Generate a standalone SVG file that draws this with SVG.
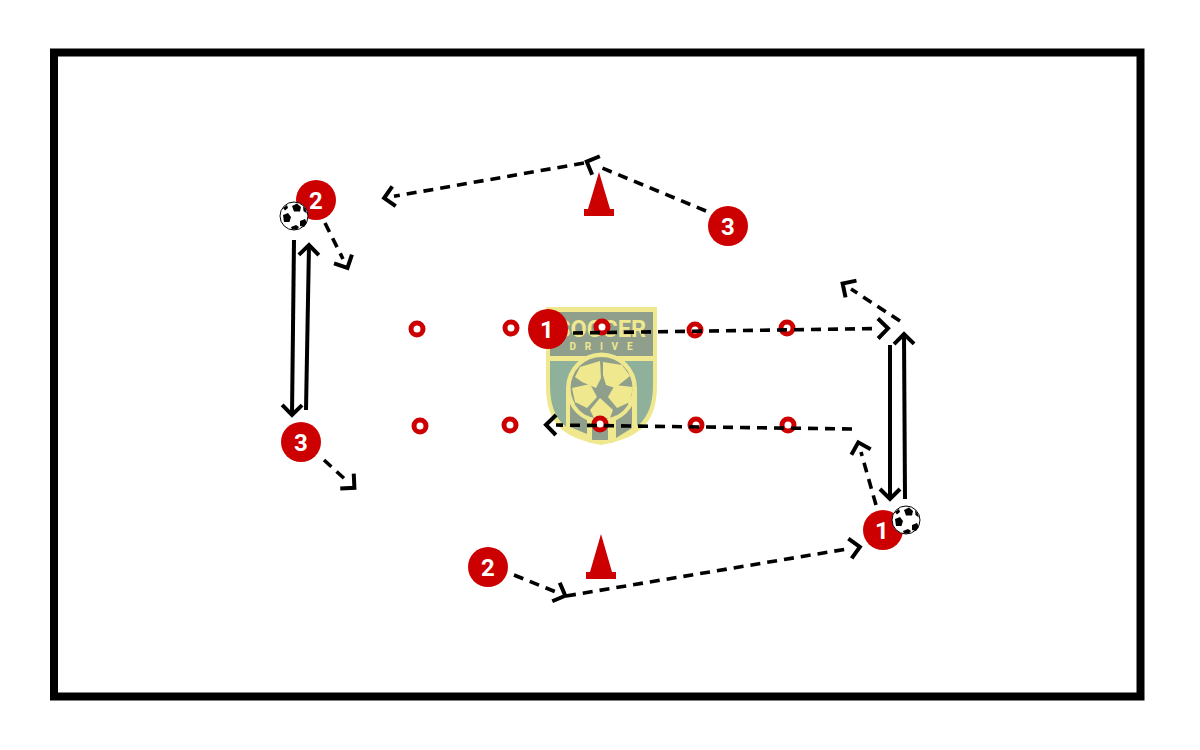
<svg xmlns="http://www.w3.org/2000/svg" width="1200" height="750" viewBox="0 0 1200 750">
<style>
.dash{fill:none;stroke:#000;stroke-width:3.6;stroke-dasharray:10 7;marker-end:url(#open)}
.solid{fill:none;stroke:#000;stroke-width:4;marker-end:url(#open2)}
.pl{fill:#c00}
.pt{fill:#fff;font:700 24px Roboto,"Liberation Sans",sans-serif;text-anchor:middle}
.ring{fill:#fff;stroke:#c00;stroke-width:5}
.cone{fill:#c00}
.lg{fill:#8fb09a}
.dk{fill:#8f9f8c}
.ly{fill:#efe88e}
.lt{fill:#efe88e;font-family:Roboto,"Liberation Sans",sans-serif;font-weight:700;text-anchor:middle}
</style>
<defs>
<marker id="open" markerUnits="userSpaceOnUse" markerWidth="36" markerHeight="36" refX="10" refY="18" orient="auto"><path d="M10 8L20 18L10 28" fill="none" stroke="#000" stroke-width="4"/></marker>
<marker id="open2" markerUnits="userSpaceOnUse" markerWidth="36" markerHeight="36" refX="18" refY="18" orient="auto"><path d="M8 8L18 18L8 28" fill="none" stroke="#000" stroke-width="4"/></marker>
<g id="ballDef">
<circle r="14" fill="#fff" stroke="#000" stroke-width="1"/>
<path d="M-2-10L3-12.500L7-9L6-4.500L0-4.500Z" fill="#000"/>
<path d="M-11-1L-6-3L-3 1L-4.500 6L-10 6Z" fill="#000"/>
<path d="M6 5L11 3L13 7L10 11L6 10Z" fill="#000"/>
<path d="M-3 11L2 9L5 11L3 13.500L-2 13.500Z" fill="#000"/>
<path d="M-11-8L-7-11L-6-8L-9-5.500Z" fill="#000"/>
<path d="M9-10L12-6L12.800-2.500L9.500-5Z" fill="#000"/>
</g>
</defs>
<rect width="1200" height="750" fill="#fff"/>
<rect id="pitch" x="54" y="52.500" width="1086.500" height="644" fill="#fff" stroke="#000" stroke-width="8"/>
<g id="logo">
<path d="M546 307H657V385C657 428 635 438 601 445C567 438 546 428 546 385Z" class="ly"/>
<path d="M550 312H653V356H550Z" class="dk"/>
<path d="M550 361H653V385C653 424 632 434 601 441C570 434 550 424 550 385Z" class="lg"/>
<path d="M566 388A35.500 35.500 0 0 1 637 388V430L612 443H590L566 430Z" class="ly"/>
<circle cx="601.500" cy="388" r="31" class="dk"/>
<path d="M570 404H587V434L570 427Z" class="dk"/>
<path d="M592 418H608V440H592Z" class="dk"/>
<path d="M616 404H632V428L616 438Z" class="dk"/>
<path d="M566 388A35.500 35.500 0 0 0 637 388L633 388A31.500 31.500 0 0 1 570 388Z" class="ly"/>
<path d="M580 367L600 361L601 378L596 388L582 382L575 377Z" class="ly"/>
<path d="M603 362L622 365L630 376L615 388L606 385L603 375Z" class="ly"/>
<path d="M572 388L590 384L597 397L587 408L575 402Z" class="ly"/>
<path d="M608 397L615 385L633 387L630 402L617 408Z" class="ly"/>
<path d="M590 410L600 398L613 410L610 418L595 420Z" class="ly"/>
<text class="lt" x="601" y="337" font-size="23" textLength="90" lengthAdjust="spacingAndGlyphs">SOCCER</text>
<text class="lt" x="601" y="350" font-size="10" textLength="63">DRIVE</text>
</g>
<g id="rings">
<circle class="ring" cx="417" cy="329" r="6"/><circle class="ring" cx="511" cy="328" r="6"/><circle class="ring" cx="602" cy="327" r="6"/><circle class="ring" cx="695" cy="330" r="6"/><circle class="ring" cx="787" cy="328" r="6"/>
<circle class="ring" cx="420" cy="426" r="6"/><circle class="ring" cx="510" cy="425" r="6"/><circle class="ring" cx="600" cy="424" r="6"/><circle class="ring" cx="696" cy="425" r="6"/><circle class="ring" cx="788" cy="425" r="6"/>
</g>
<g id="cone-top"><path class="cone" d="M599 172L610 209H614V216H584V209H588Z"/></g>
<g id="cone-bottom"><path class="cone" d="M601 534L612 572H616V579H586V572H590Z"/></g>
<g id="connectors">
<path class="dash" d="M706 211L596 165.500"/>
<path class="dash" d="M584 163L394 196.300"/>
<path class="dash" d="M325 223L343 259"/>
<path class="dash" d="M324 460L347 481"/>
<path class="dash" d="M514 575L556 592"/>
<path class="dash" d="M566 596L850 548.500"/>
<path class="dash" d="M876 505L861 452"/>
<path class="dash" d="M852 429L556 425"/>
<path class="dash" d="M573 333L878 328.500"/>
<path class="dash" d="M900 321L851 289"/>
<path class="solid" d="M294 240L292 415"/>
<path class="solid" d="M306 410L309 245"/>
<path class="solid" d="M890 345L890 499"/>
<path class="solid" d="M905 499L904 334"/>
</g>
<g id="player-1a"><circle class="pl" cx="548" cy="329" r="20"/><text class="pt" x="547" y="338">1</text></g>
<g id="player-2a"><circle class="pl" cx="316" cy="200" r="20"/><text class="pt" x="316" y="209">2</text></g>
<g id="player-3a"><circle class="pl" cx="728" cy="226" r="20"/><text class="pt" x="728" y="235">3</text></g>
<g id="player-3b"><circle class="pl" cx="301" cy="442" r="20"/><text class="pt" x="301" y="451">3</text></g>
<g id="player-2b"><circle class="pl" cx="488" cy="567" r="20"/><text class="pt" x="488" y="576">2</text></g>
<g id="player-1b"><circle class="pl" cx="883" cy="530" r="20"/><text class="pt" x="882" y="539">1</text></g>
<g id="ball-a" transform="translate(294 216)"><use href="#ballDef"/></g>
<g id="ball-b" transform="translate(906 520)"><use href="#ballDef"/></g>
</svg>
